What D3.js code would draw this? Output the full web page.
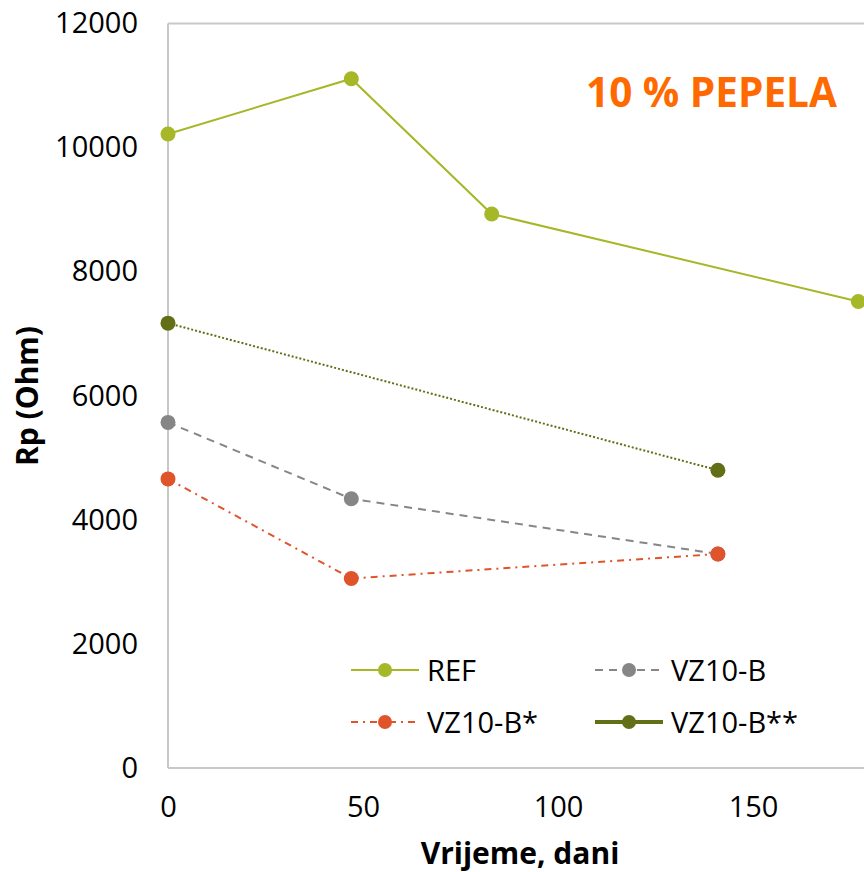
<!DOCTYPE html>
<html>
<head>
<meta charset="utf-8">
<script src="https://cdn.jsdelivr.net/npm/d3@7"></script>
<style>
  html, body { margin: 0; padding: 0; background: #fff; }
  svg { display: block; font-family: "Open Sans", "Noto Sans", sans-serif; }
</style>
</head>
<body>
<svg id="chart" width="864" height="872"></svg>
<script>
// Polarisation resistance over time, 10 % ash mixes
const seriesNames = ["REF", "VZ10-B", "VZ10-B*", "VZ10-B**"];
const refDays = [0, 47, 83, 177];
const refRp = [10220, 11110, 8930, 7520];
const vzbDays = [0, 47, 141];
const vzbRp = [5570, 4340, 3450];
const vzbStarDays = [0, 47, 141];
const vzbStarRp = [4660, 3055, 3450];
const vzbStar2Days = [0, 141];
const vzbStar2Rp = [7170, 4800];
const xTicks = [0, 50, 100, 150];
const yTicks = [0, 2000, 4000, 6000, 8000, 10000, 12000];

const series = [
  { name: seriesNames[0], days: refDays, rp: refRp, color: "#a6b727", dash: null, width: 2 },
  { name: seriesNames[1], days: vzbDays, rp: vzbRp, color: "#868686", dash: "8,6", width: 2 },
  { name: seriesNames[2], days: vzbStarDays, rp: vzbStarRp, color: "#e0542b", dash: "7,5,2,5", width: 2 },
  { name: seriesNames[3], days: vzbStar2Days, rp: vzbStar2Rp, color: "#636f16", dash: "2,2", width: 2 }
];

const svg = d3.select("#chart");
const plotLeft = 168, plotTop = 23.5, plotBottom = 768;

const x = d3.scaleLinear().domain([0, 150]).range([plotLeft, 753]);
const y = d3.scaleLinear().domain([0, 12000]).range([plotBottom, plotTop]);

// plot-area frame
svg.append("line").attr("x1", plotLeft).attr("x2", 864).attr("y1", plotTop).attr("y2", plotTop)
  .attr("stroke", "#c8c8c8").attr("stroke-width", 2);

// axes
const yAxis = svg.append("g").attr("transform", `translate(${plotLeft},0)`)
  .call(d3.axisLeft(y).tickValues(yTicks).tickSize(0).tickPadding(30).tickFormat(d3.format("d")));
const xAxis = svg.append("g").attr("transform", `translate(0,${plotBottom})`)
  .call(d3.axisBottom(x).tickValues(xTicks).tickSize(0).tickPadding(28).tickFormat(d3.format("d")));
[yAxis, xAxis].forEach(g => {
  g.select(".domain").remove();
  g.selectAll("text").attr("font-size", 29).attr("fill", "#000")
    .attr("font-family", "'Open Sans', sans-serif");
});
svg.append("line").attr("x1", plotLeft).attr("x2", plotLeft).attr("y1", plotTop).attr("y2", plotBottom)
  .attr("stroke", "#c8c8c8").attr("stroke-width", 2);
svg.append("line").attr("x1", plotLeft).attr("x2", 864).attr("y1", plotBottom).attr("y2", plotBottom)
  .attr("stroke", "#c8c8c8").attr("stroke-width", 2);

// series lines and markers
const line = d3.line().x(d => x(d[0])).y(d => y(d[1]));
series.forEach(s => {
  const pts = s.days.map((d, i) => [d, s.rp[i]]);
  svg.append("path").datum(pts).attr("d", line)
    .attr("fill", "none").attr("stroke", s.color).attr("stroke-width", s.width)
    .attr("stroke-dasharray", s.dash);
  svg.append("g").selectAll("circle").data(pts).join("circle")
    .attr("cx", d => x(d[0])).attr("cy", d => y(d[1])).attr("r", 7.5)
    .attr("fill", s.color);
});

// annotation
svg.append("text").attr("x", 586).attr("y", 107).text("10 % PEPELA")
  .attr("font-size", 40.5).attr("font-weight", 700).attr("fill", "#ff6a00");

// axis titles
svg.append("text").attr("x", 520).attr("y", 864).attr("text-anchor", "middle")
  .attr("font-size", 30).attr("font-weight", 700).text("Vrijeme, dani");
svg.append("text").attr("transform", "translate(38,396) rotate(-90)").attr("text-anchor", "middle")
  .attr("font-size", 30).attr("font-weight", 700).text("Rp (Ohm)");

// legend
const legendPos = [[351, 670], [595, 670], [351, 722], [595, 722]];
series.forEach((s, i) => {
  const [lx, ly] = legendPos[i];
  const g = svg.append("g").attr("transform", `translate(${lx},${ly})`);
  const isLast = i === 3;
  g.append("line").attr("x1", 0).attr("x2", 68).attr("y1", 0).attr("y2", 0)
    .attr("stroke", s.color).attr("stroke-width", isLast ? 4 : 2)
    .attr("stroke-dasharray", isLast ? null : s.dash);
  g.append("circle").attr("cx", 34).attr("cy", 0).attr("r", 7).attr("fill", s.color);
  g.append("text").attr("x", 76).attr("y", 11).attr("font-size", 29).attr("fill", "#000").text(s.name);
});
</script>
</body>
</html>
